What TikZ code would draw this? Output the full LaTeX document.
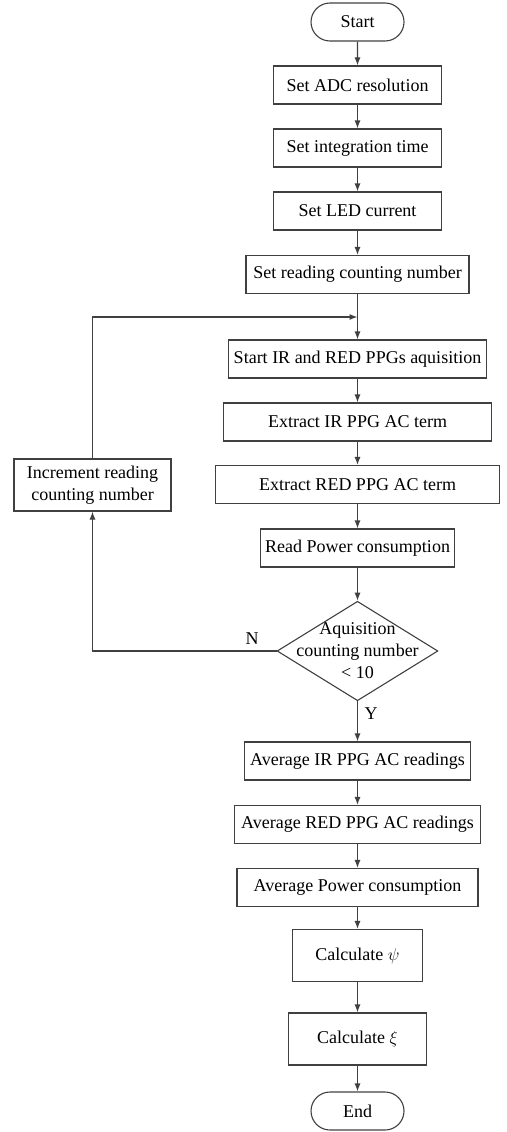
\documentclass[tikz,border=0pt]{standalone}
\usepackage{fontspec}
\setmainfont{Liberation Serif}
\usetikzlibrary{positioning}
\usetikzlibrary{arrows.meta}
\usetikzlibrary{shapes.misc}
\usetikzlibrary{shapes.geometric}
\definecolor{linegray}{RGB}{64,64,64}

\begin{document}
\begin{tikzpicture}[x=1pt, y=-1pt, line width=1.1pt,
		>={Latex[length=8pt,width=6pt]},
		every node/.style={font=\fontsize{18}{22}\selectfont},
		stepbox/.style={draw=linegray, rectangle, minimum height=38pt, inner sep=0pt, align=center},
		terminal/.style={draw=linegray, rounded rectangle, minimum width=93pt, minimum height=38pt, inner sep=0pt},
		decision/.style={draw=linegray, diamond, aspect=1.617, inner sep=-10pt, align=center},
		flow/.style={->, draw=linegray}]
		\useasboundingbox (0,0) rectangle (506,1132);

		% Setup
		\node[terminal] (start) at (357.5, 22) {Start};
		\node[stepbox, minimum width=168pt] (adc) at (357.5, 85) {Set ADC resolution};
		\node[stepbox, minimum width=168pt] (integ) at (357.5, 148) {Set integration time};
		\node[stepbox, minimum width=168pt] (led) at (357.5, 211) {Set LED current};
		\node[stepbox, minimum width=223pt] (count) at (357.5, 274.5) {Set reading counting number};
		\coordinate (merge) at (357.5, 317);

		% Acquisition loop
		\node[stepbox, minimum width=258pt] (acq) at (357.5, 359) {Start IR and RED PPGs aquisition};
		\node[stepbox, minimum width=268pt] (irac) at (357.5, 422) {Extract IR PPG AC term};
		\node[stepbox, minimum width=284pt] (redac) at (357.5, 484.5) {Extract RED PPG AC term};
		\node[stepbox, minimum width=194pt] (power) at (357.5, 548) {Read Power consumption};
		\node[decision] (check) at (357.5, 651) {Aquisition\\counting number\\< 10};
		\node[stepbox, minimum width=157pt, minimum height=52pt] (incr) at (92.5, 485) {Increment reading\\counting number};
		\node (nlabel) at (252, 639) {N};
		\node (ylabel) at (371, 714) {Y};

		% Results
		\node[stepbox, minimum width=226pt] (avgir) at (357.5, 761) {Average IR PPG AC readings};
		\node[stepbox, minimum width=246pt] (avgred) at (357.5, 824.5) {Average RED PPG AC readings};
		\node[stepbox, minimum width=241pt] (avgpow) at (357.5, 887.5) {Average Power consumption};
		\node[stepbox, minimum width=130pt, minimum height=52pt] (psi) at (357.5, 955.5) {Calculate $\psi$};
		\node[stepbox, minimum width=138pt, minimum height=52pt] (xi) at (357.5, 1039) {Calculate $\xi$};
		\node[terminal] (end) at (357.5, 1111) {End};

		% Connectors
		\draw[flow] (start) -- (adc);
		\draw[flow] (adc) -- (integ);
		\draw[flow] (integ) -- (led);
		\draw[flow] (led) -- (count);
		\draw[flow] (count) -- (acq);
		\draw[flow] (acq) -- (irac);
		\draw[flow] (irac) -- (redac);
		\draw[flow] (redac) -- (power);
		\draw[flow] (power) -- (check);
		\draw[flow] (check.west) -| (incr.south);
		\draw[flow] (incr.north) |- (merge);
		\draw[flow] (check) -- (avgir);
		\draw[flow] (avgir) -- (avgred);
		\draw[flow] (avgred) -- (avgpow);
		\draw[flow] (avgpow) -- (psi);
		\draw[flow] (psi) -- (xi);
		\draw[flow] (xi) -- (end);
	\end{tikzpicture}
\end{document}
